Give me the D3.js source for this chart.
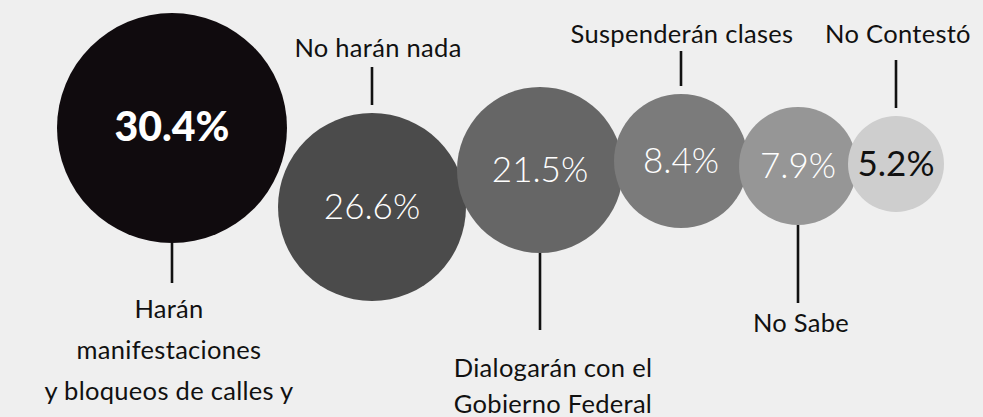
<!DOCTYPE html>
<html>
<head>
<meta charset="utf-8">
<script src="https://cdn.jsdelivr.net/npm/d3@7"></script>
<style>
  html, body { margin: 0; padding: 0; background: #efefef; }
  svg { display: block; }
  text { font-family: Lato, "Noto Sans", sans-serif; }
</style>
</head>
<body>
<div id="chart"></div>
<script>
//
// data
//
var categories = [
  "Harán|manifestaciones|y bloqueos de calles y",
  "No harán nada",
  "Dialogarán con el|Gobierno Federal",
  "Suspenderán clases",
  "No Sabe",
  "No Contestó"
];
var values = [30.4, 26.6, 21.5, 8.4, 7.9, 5.2];

//
// setup / layout
//
var width = 983,
    height = 417,
    midY = 165,
    startX = 172,
    overlap = 9;

// bubble sizes are not area-true in the original, so map rank to radius
var radius = d3.scaleLinear()
    .domain(d3.sort(values))
    .range([48, 59, 67, 83, 94, 115]);

var fill = d3.scaleOrdinal()
    .domain(categories)
    .range(["#100b0e", "#4b4b4b", "#666666", "#7b7b7b", "#969696", "#cecece"]);

// per bubble annotation layout (vertical nudge, leader length, label baseline)
var lift    = [-37, 42, 5, -4, 1, -1];
var stem    = [40, 38, 77, 35, 78, 48];
var labelY  = [318, 57, 377, 43, 332, 43];
var labelDx = [-3, 6, 13, 1, 3, 2];
var lineGap = [41, 0, 36, 0, 0, 0];

var fmt = d3.format(".1f");
var maxValue = d3.max(values);

var nodes = values.map(function(v, i) {
  return { name: categories[i], value: v, r: radius(v), side: i % 2 ? "above" : "below", i: i };
});

var x = startX;
nodes.forEach(function(d, i) {
  if (i > 0) x += nodes[i - 1].r + d.r - overlap;
  d.cx = x;
  d.cy = midY + lift[i];
});

var svg = d3.select("#chart")
  .append("svg")
  .attr("width", width)
  .attr("height", height);

svg.append("rect")
  .attr("width", width)
  .attr("height", height)
  .attr("fill", "#efefef");

//
// leader lines
//
svg.append("g")
  .selectAll("line")
  .data(nodes)
  .enter()
  .append("line")
  .attr("x1", function(d) { return d.cx; })
  .attr("x2", function(d) { return d.cx; })
  .attr("y1", function(d) {
    return d.side == "below" ? d.cy + d.r : d.cy - d.r - 8 - stem[d.i];
  })
  .attr("y2", function(d) {
    return d.side == "below" ? d.cy + d.r + stem[d.i] : d.cy - d.r - 8;
  })
  .attr("stroke", "#111")
  .attr("stroke-width", 2.6);

//
// bubbles
//
var bubble = svg.append("g")
  .selectAll("g")
  .data(nodes)
  .enter()
  .append("g")
  .attr("transform", function(d) { return "translate(" + d.cx + "," + d.cy + ")"; });

bubble.append("circle")
  .attr("r", function(d) { return d.r; })
  .attr("fill", function(d) { return fill(d.name); });

bubble.append("text")
  .attr("text-anchor", "middle")
  .attr("y", function(d) { return d.value == maxValue ? 13 : 12; })
  .attr("font-size", function(d) { return d.value == maxValue ? 41 : 35; })
  .attr("font-weight", function(d) {
    if (d.value == maxValue) return 900;
    return d3.lab(fill(d.name)).l > 70 ? 400 : 300;
  })
  .attr("fill", function(d) { return d3.lab(fill(d.name)).l > 70 ? "#111" : "#fff"; })
  .text(function(d) { return fmt(d.value) + "%"; });

//
// category labels
//
var label = svg.append("g")
  .selectAll("text")
  .data(nodes)
  .enter()
  .append("text")
  .attr("text-anchor", "middle")
  .attr("font-size", 25.5)
  .attr("letter-spacing", 0.3)
  .attr("fill", "#111")
  .attr("x", function(d) { return d.cx + labelDx[d.i]; })
  .attr("y", function(d) { return labelY[d.i]; });

label.selectAll("tspan")
  .data(function(d) {
    return d.name.split("|").map(function(t) { return { t: t, x: d.cx + labelDx[d.i], gap: lineGap[d.i] }; });
  })
  .enter()
  .append("tspan")
  .attr("x", function(t) { return t.x; })
  .attr("dy", function(t, j) { return j ? t.gap : 0; })
  .text(function(t) { return t.t; });
</script>
</body>
</html>
